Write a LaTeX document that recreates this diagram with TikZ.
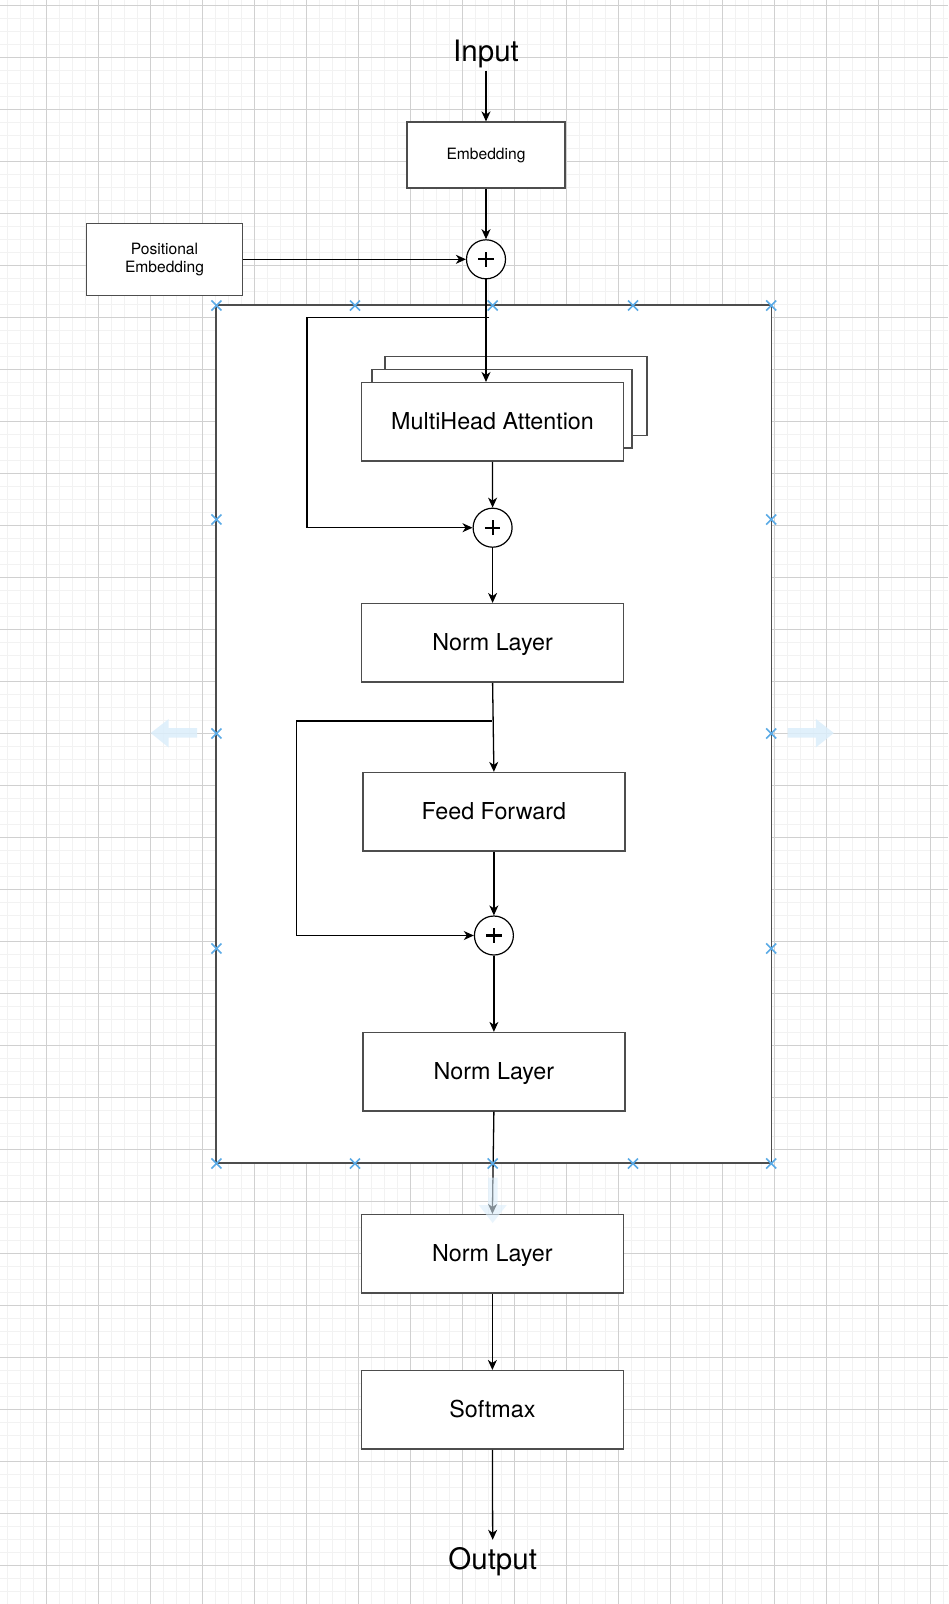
\documentclass[tikz,border=0pt]{standalone}
\usepackage{fontspec}
\setmainfont{TeX Gyre Heros}
\usetikzlibrary{arrows.meta}
\definecolor{minorgrid}{HTML}{F2F2F2}
\definecolor{majorgrid}{HTML}{D0D0D0}
\definecolor{boxline}{HTML}{4D4D4D}
\definecolor{handle}{HTML}{5AAAE6}
\definecolor{ghost}{HTML}{DBEEFB}
\tikzset{
  blk/.style={draw=boxline, line width=1.5pt, fill=white, inner sep=0pt, align=center},
  sum/.style={circle, draw=black, line width=1.2pt, fill=white, minimum size=39pt, inner sep=0pt,
    path picture={\draw[black, line width=2.2pt]
      ([xshift=-7.8pt]path picture bounding box.center) -- ([xshift=7.8pt]path picture bounding box.center)
      ([yshift=-7.3pt]path picture bounding box.center) -- ([yshift=7.3pt]path picture bounding box.center);}},
  arr/.style={draw=black, line width=1.3pt, -{Stealth[length=10pt,width=9pt,inset=3pt]}},
  bigtxt/.style={font=\fontsize{29.5}{34}\selectfont, inner sep=3pt},
  lbl/.style={font=\fontsize{23.3}{28}\selectfont, text height=19.5pt, text depth=4.9pt},
  small/.style={font=\fontsize{15.6}{18.3}\selectfont},
  hmark/.style={draw=handle, line width=1.6pt},
}
\begin{document}
\begin{tikzpicture}[x=1pt,y=-1pt]
\useasboundingbox (0,0) rectangle (948,1604);
\fill[white] (0,0) rectangle (948,1604);
% grid
\foreach \i in {0,...,72} {\draw[minorgrid, line width=1.3pt] (7.7+13*\i,0) -- (7.7+13*\i,1604);}
\foreach \i in {0,...,123} {\draw[minorgrid, line width=1.3pt] (0,5.3+13*\i) -- (948,5.3+13*\i);}
\foreach \i in {0,...,17} {\draw[majorgrid, line width=1pt] (46.7+52*\i,0) -- (46.7+52*\i,1604);}
\foreach \i in {0,...,30} {\draw[majorgrid, line width=1pt] (0,5.3+52*\i) -- (948,5.3+52*\i);}

% top part
\node[bigtxt, anchor=base] (input) at (486,61) {Input};
\node[blk, small, minimum width=158pt, minimum height=66pt] (emb) at (486,155.2) {Embedding};
\node[blk, small, minimum width=156pt, minimum height=72pt] (pe) at (164.5,259.3) {Positional\\Embedding};
\node[sum] (p1) at (486,259.3) {};

% container
\node[draw=boxline, line width=1.6pt, fill=white, inner sep=0pt, minimum width=555.4pt, minimum height=858pt] (enc) at (493.8,733.9) {};

% multi-head stack
\node[blk, minimum width=262.1pt, minimum height=78.6pt] (mhac) at (515.85,396) {};
\node[blk, minimum width=260.3pt, minimum height=78.5pt] (mhab) at (502.05,408.75) {};
\node[blk, lbl, minimum width=262pt, minimum height=78.3pt] (mha) at (492.55,421.85) {MultiHead Attention};

\node[sum] (p2) at (492.6,527.7) {};
\node[blk, lbl, minimum width=262.1pt, minimum height=78.3pt] (norm1) at (492.6,642.85) {Norm Layer};
\node[blk, lbl, minimum width=262.2pt, minimum height=78.2pt] (ff) at (493.9,811.7) {Feed Forward};
\node[sum] (p3) at (493.9,935.5) {};
\node[blk, lbl, minimum width=262.2pt, minimum height=78.2pt] (norm2) at (493.9,1071.7) {Norm Layer};

% outside
\node[blk, lbl, minimum width=261.8pt, minimum height=78.3pt] (norm3) at (492.4,1253.85) {Norm Layer};
\node[blk, lbl, minimum width=261.8pt, minimum height=78.3pt] (soft) at (492.4,1409.85) {Softmax};
\node[bigtxt, anchor=base] (output) at (492.7,1569) {Output};

% connectors
\draw[arr] (input.south) -- (emb.north);
\draw[arr] (emb.south) -- (p1.north);
\draw[arr] (pe.east) -- (p1.west);
\draw[arr] (p1.south) -- (p1.south |- mha.north);
\coordinate (s1) at (489.3,317.7);
\coordinate (s1c) at (307,317.7);
\draw[arr] (s1) -- (s1c) |- (p2.west);
\draw[arr] (mha.south) -- (p2.north);
\draw[arr] (p2.south) -- (norm1.north);
\draw[arr] (norm1.south) -- (ff.north);
\coordinate (s2) at (491.8,721);
\coordinate (s2c) at (296.7,721);
\draw[arr] (s2) -- (s2c) |- (p3.west);
\draw[arr] (ff.south) -- (p3.north);
\draw[arr] (p3.south) -- (norm2.north);
\draw[arr] (norm2.south) -- (norm3.north);
\draw[arr] (norm3.south) -- (soft.north);
\draw[arr, shorten >=4pt] (soft.south) -- (output.north);

% selection handles
\foreach \x in {216.4,355,492.7,633,771.2} {
  \foreach \y in {305.5,1163.5} {
    \draw[hmark] (\x-5,\y-5) -- (\x+5,\y+5) (\x-5,\y+5) -- (\x+5,\y-5);
  }
}
\foreach \x in {216.4,771.2} {
  \foreach \y in {519.5,733.5,948.5} {
    \draw[hmark] (\x-5,\y-5) -- (\x+5,\y+5) (\x-5,\y+5) -- (\x+5,\y-5);
  }
}
% faint resize arrows
\fill[ghost, opacity=0.85] (150.7,733) -- (168.7,719) -- (168.7,728) -- (197,728) -- (197,737.5) -- (168.7,737.5) -- (168.7,747.5) -- cycle;
\fill[ghost, opacity=0.85] (833.8,733) -- (815.8,719) -- (815.8,728) -- (787.5,728) -- (787.5,737.5) -- (815.8,737.5) -- (815.8,747.5) -- cycle;
\fill[ghost, opacity=0.6] (492.7,1223) -- (478.7,1205) -- (488,1205) -- (488,1177.6) -- (497.5,1177.6) -- (497.5,1205) -- (506.7,1205) -- cycle;
\end{tikzpicture}
\end{document}
